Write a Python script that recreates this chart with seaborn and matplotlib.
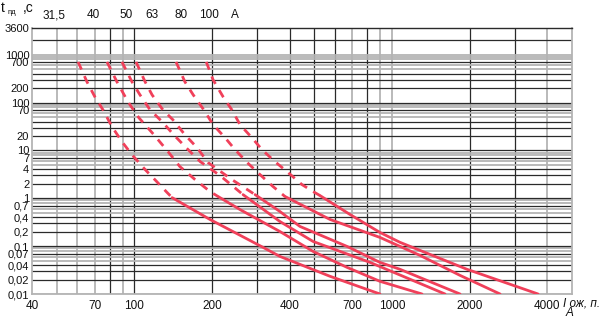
import matplotlib
matplotlib.use("Agg")
import matplotlib.pyplot as plt
import seaborn as sns
import pandas as pd
from matplotlib.ticker import FixedLocator, FixedFormatter, NullLocator

sns.set_style("white")
plt.rcParams["font.family"] = ["Liberation Sans", "DejaVu Sans"]

# ---------------- data (current I, A ; time t, s) ----------------
ratings = ["31,5", "40", "50", "63", "80", "100"]

i_dash_315 = [60.4, 65.4, 70.2, 75.5, 81.8, 89.4, 97.8, 110, 122, 134, 140]
t_dash_315 = [705, 270, 131, 70, 31.2, 15.2, 8.1, 3.97, 2.23, 1.31, 1.03]
i_sol_315 = [140, 196.5, 316, 367, 575, 898]
t_sol_315 = [1.03, 0.36, 0.094, 0.061, 0.0234, 0.01]

i_dash_40 = [78.2, 85.5, 94.4, 104, 119, 135, 150, 172, 196.5, 211]
t_dash_40 = [705, 270, 103, 48, 21.2, 9.4, 4.6, 2.45, 1.38, 1.09]
i_sol_40 = [211, 257, 367, 494, 669, 898, 1308]
t_sol_40 = [1.09, 0.58, 0.202, 0.0774, 0.036, 0.0184, 0.01]

i_dash_50 = [89.4, 97.8, 105, 115, 128, 142, 160, 180, 215, 264]
t_dash_50 = [705, 270, 145, 70, 39.8, 21.2, 10.9, 5.83, 2.97, 1.19]
i_sol_50 = [264, 367, 494, 822, 1607]
t_sol_50 = [1.19, 0.327, 0.125, 0.0457, 0.01]

i_dash_63 = [101.4, 110, 117, 129, 141, 157, 175, 193, 239, 294]
t_dash_63 = [705, 270, 145, 70, 43.6, 21.2, 11.4, 5.57, 2.45, 1.19]
i_sol_63 = [294, 367, 439, 669, 898, 1074, 1837]
t_sol_63 = [1.19, 0.529, 0.258, 0.0986, 0.0457, 0.0328, 0.01]

i_dash_80 = [145, 157, 169, 186, 202, 225, 246, 274, 307, 345, 384]
t_dash_80 = [705, 270, 145, 70, 34.4, 18.3, 10.3, 5.57, 3.13, 1.76, 1.09]
i_sol_80 = [384, 575, 898, 1285, 1837, 2628]
t_sol_80 = [1.09, 0.36, 0.152, 0.064, 0.0245, 0.01]

i_dash_100 = [190, 202, 221, 239, 257, 286, 313, 351, 395, 447, 502, 525]
t_dash_100 = [705, 297, 131, 70, 34.4, 18.3, 10.3, 5.83, 3.44, 1.93, 1.31, 1.14]
i_sol_100 = [525, 687, 898, 1074, 1956, 3692]
t_sol_100 = [1.14, 0.458, 0.193, 0.12, 0.0328, 0.01]

x_ticks = [40, 70, 100, 200, 400, 700, 1000, 2000, 4000]
x_ticklabels = ["40", "70", "100", "200", "400", "700", "1000", "2000", "4000"]
y_ticks = [3600, 1000, 700, 200, 100, 70, 20, 10, 7, 4, 2, 1, 0.7, 0.4, 0.2,
           0.1, 0.07, 0.04, 0.02, 0.01]
y_ticklabels = ["3600", "1000", "700", "200", "100", "70", "20", "10", "7", "4",
                "2", "1", "0,7", "0,4", "0,2", "0,1", "0,07", "0,04", "0,02", "0,01"]

# ---------------- build long table ----------------
curves = {
    "31,5": (i_dash_315, t_dash_315, i_sol_315, t_sol_315),
    "40": (i_dash_40, t_dash_40, i_sol_40, t_sol_40),
    "50": (i_dash_50, t_dash_50, i_sol_50, t_sol_50),
    "63": (i_dash_63, t_dash_63, i_sol_63, t_sol_63),
    "80": (i_dash_80, t_dash_80, i_sol_80, t_sol_80),
    "100": (i_dash_100, t_dash_100, i_sol_100, t_sol_100),
}
rows = []
for r in ratings:
    idash, tdash, isol, tsol = curves[r]
    for a, b in zip(idash, tdash):
        rows.append({"I": a, "t": b, "rating": r, "part": "dash"})
    for a, b in zip(isol, tsol):
        rows.append({"I": a, "t": b, "rating": r, "part": "solid"})
df = pd.DataFrame(rows)

# ---------------- figure ----------------
W, H = 600, 318
fig = plt.figure(figsize=(W / 100, H / 100), dpi=100)
ax = fig.add_axes([32 / W, 1 - 294 / H, 540 / W, 266 / H])
ax.set_xscale("log")
ax.set_yscale("log")
ax.set_xlim(40, 5000)
ax.set_ylim(0.01, 3600)

dark = "#2a2a2a"
light = "#b4b4b4"

# vertical grid lines
vdark = [80, 100, 200, 300, 400, 500, 600, 800, 2000, 3000]
vlight = [50, 60, 70, 90, 700, 900, 1000, 4000]
for v in vdark:
    ax.axvline(v, color=dark, lw=0.9, zorder=1)
for v in vlight:
    ax.axvline(v, color=light, lw=1.3, zorder=1)

# horizontal grid lines
for e in [0.01, 0.1, 1, 10, 100]:
    for k in range(1, 10):
        val = k * e
        if k in (1, 2, 3, 4, 7):
            ax.axhline(val, color=dark, lw=0.9, zorder=1)
        else:
            ax.axhline(val, color=light, lw=1.3, zorder=1)
ax.axhline(1000, color=light, lw=1.3, zorder=1)
ax.axhline(2000, color=dark, lw=0.9, zorder=1)

red = "#f0405a"
sns.lineplot(data=df, x="I", y="t", hue="rating", style="part", units="rating",
             estimator=None, sort=False, palette={r: red for r in ratings},
             dashes={"dash": (3.0, 2.6), "solid": ""}, linewidth=2.0,
             legend=False, ax=ax, zorder=3)

for s in ["left", "right", "bottom"]:
    ax.spines[s].set_color(light)
    ax.spines[s].set_linewidth(1.3)
ax.spines["top"].set_color(dark)
ax.spines["top"].set_linewidth(1.0)

ax.xaxis.set_major_locator(FixedLocator(x_ticks))
ax.xaxis.set_major_formatter(FixedFormatter(x_ticklabels))
ax.xaxis.set_minor_locator(NullLocator())
ax.yaxis.set_major_locator(FixedLocator(y_ticks))
ax.yaxis.set_major_formatter(FixedFormatter(y_ticklabels))
ax.yaxis.set_minor_locator(NullLocator())
ax.tick_params(axis="x", length=0, pad=4, labelsize=8.5, colors="#111111")
ax.tick_params(axis="y", length=0, pad=2, labelsize=8, colors="#111111")
ax.set_xlabel("")
ax.set_ylabel("")

# rated current labels along the top
top_px = [54, 93, 126, 152, 181, 209]
for lab, px in zip(ratings, top_px):
    fig.text(px / W, 1 - 15 / H, lab, ha="center", va="center", fontsize=8.5, color="#111111")
fig.text(235 / W, 1 - 15 / H, "А", ha="center", va="center", fontsize=8.5, color="#111111")

# y axis title  t_пд, с
fig.text(1 / W, 1 - 12 / H, "t", ha="left", va="baseline", fontsize=10, color="#111111")
fig.text(8 / W, 1 - 14 / H, "пд", ha="left", va="baseline", fontsize=5.5, color="#111111")
fig.text(23 / W, 1 - 12 / H, ",с", ha="left", va="baseline", fontsize=10, color="#111111")

# x axis title
fig.text(563 / W, 1 - 303 / H, "I ож, п.", ha="left", va="center", fontsize=8.5,
         style="italic", color="#111111")
fig.text(566 / W, 1 - 313 / H, "А", ha="left", va="center", fontsize=8.5,
         style="italic", color="#111111")

fig.savefig("out.png", dpi=100)
